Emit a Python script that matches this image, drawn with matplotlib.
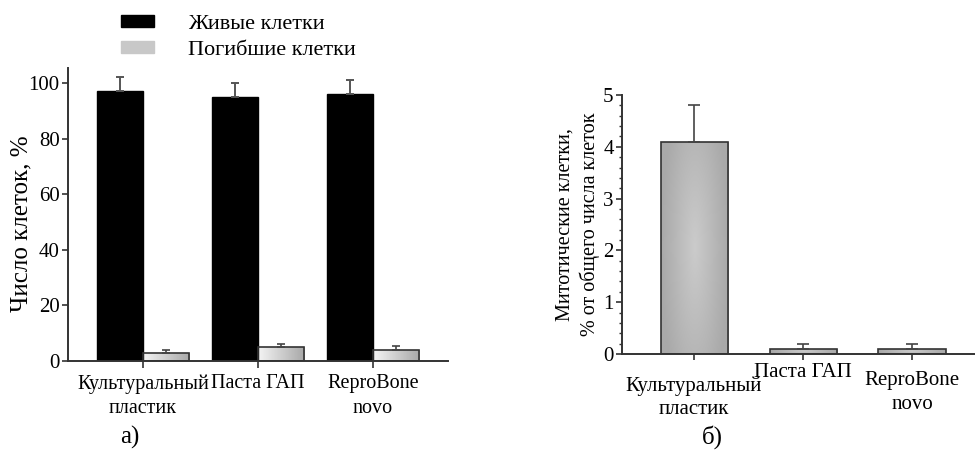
import matplotlib
matplotlib.use("Agg")
import matplotlib.pyplot as plt
import numpy as np
from matplotlib.patches import Patch

plt.rcParams["font.family"] = ["Liberation Serif", "DejaVu Serif"]

# panel a: percentage of live / dead cells
groups_a = ["Культуральный\nпластик", "Паста ГАП", "ReproBone\nnovo"]
live = [97, 95, 96]
live_err = [5, 5, 5]
dead = [3, 5, 4]
dead_err = [1, 1, 1.4]

# panel b: mitotic cells
groups_b = ["Культуральный\nпластик", "Паста ГАП", "ReproBone\nnovo"]
mitotic = [4.1, 0.1, 0.1]
mitotic_err = [0.7, 0.1, 0.1]

W, H = 975, 458
fig = plt.figure(figsize=(W / 100, H / 100), dpi=100)


def gradient_fill(ax, bar, img, cmap):
    x0, y0 = bar.get_x(), bar.get_y()
    w, h = bar.get_width(), bar.get_height()
    im = ax.imshow(img, extent=(x0, x0 + w, y0, y0 + h), aspect="auto",
                   cmap=cmap, vmin=0, vmax=1, origin="lower", zorder=bar.get_zorder() - 0.1)
    im.set_clip_path(bar)
    bar.set_facecolor("none")


def style_axes(ax):
    for s in ("top", "right"):
        ax.spines[s].set_visible(False)
    for s in ("left", "bottom"):
        ax.spines[s].set_color("#333333")
        ax.spines[s].set_linewidth(1.4)
    ax.tick_params(axis="both", colors="#333333", labelcolor="black", labelsize=15,
                   length=4, width=1.2, pad=2)


# ---- panel a ----
ax1 = fig.add_axes([68 / W, 97 / H, 380 / W, 293 / H])
x = np.arange(len(groups_a))
bw = 0.4
ax1.bar(x - bw / 2, live, bw, color="black", edgecolor="black", zorder=2,
        yerr=[np.zeros(3), live_err], error_kw=dict(ecolor="#555555", elinewidth=1.4, capsize=3, capthick=1.4))
dbars = ax1.bar(x + bw / 2, dead, bw, color="#d8d8d8", edgecolor="#333333", linewidth=1.2, zorder=2,
                yerr=[np.zeros(3), dead_err], error_kw=dict(ecolor="#444444", elinewidth=1.2, capsize=3, capthick=1.2))
hgrad = np.tile(np.linspace(0, 1, 64), (8, 1))
for b in dbars:
    gradient_fill(ax1, b, hgrad, matplotlib.colors.LinearSegmentedColormap.from_list("g1", ["#f4f4f4", "#a8a8a8"]))
ax1.set_xlim(-0.652, 2.652)
ax1.set_ylim(0, 105.4)
ax1.set_yticks([0, 20, 40, 60, 80, 100])
ax1.set_xticks(x)
ax1.set_xticklabels([])
style_axes(ax1)
ax1.tick_params(axis="x", length=5)
ax1.set_ylabel("Число клеток, %", fontsize=18)
ax1.yaxis.set_label_coords(-0.094, 0.47)
for xi, lab in zip(x, groups_a):
    ax1.text(xi, -0.045, lab, transform=ax1.get_xaxis_transform(), ha="center", va="top",
             fontsize=14.5, linespacing=1.4)
fig.text(130 / W, 1 - 437 / H, "а)", ha="center", va="center", fontsize=18)

# legend
handles = [Patch(facecolor="black", edgecolor="black"),
           Patch(facecolor="#c8c8c8", edgecolor="#c8c8c8")]
fig.legend(handles, ["Живые клетки", "Погибшие клетки"], loc="upper left",
           bbox_to_anchor=(121 / W, 1 - 15 / H), frameon=False, fontsize=16,
           borderaxespad=0, borderpad=0,
           handlelength=1.5, handleheight=0.45, handletextpad=1.5, labelspacing=0.3)

# ---- panel b ----
ax2 = fig.add_axes([622 / W, 104 / H, 353 / W, 259 / H])
x2 = np.arange(len(groups_b))
bw2 = 0.615
mbars = ax2.bar(x2, mitotic, bw2, color="#c0c0c0", edgecolor="#333333", linewidth=1.2, zorder=2,
                yerr=[np.zeros(3), mitotic_err], error_kw=dict(ecolor="#444444", elinewidth=1.2, capsize=4, capthick=1.2))
gx, gy = np.meshgrid(np.linspace(-1, 1, 64), np.linspace(-1, 1, 64))
rgrad = np.sqrt(gx ** 2 + (0.6 * gy) ** 2)
for b in mbars:
    gradient_fill(ax2, b, rgrad, matplotlib.colors.LinearSegmentedColormap.from_list("g2", ["#cbcbcb", "#a9a9a9"]))
ax2.set_xlim(-0.661, 2.578)
ax2.set_ylim(0, 5)
ax2.set_yticks([0, 1, 2, 3, 4, 5])
ax2.set_yticks(np.arange(0, 5.01, 0.2), minor=True)
ax2.set_xticks(x2)
ax2.set_xticklabels([])
style_axes(ax2)
ax2.tick_params(axis="y", which="minor", length=2.5, width=1, colors="#333333")
ax2.set_ylabel("Митотические клетки,\n% от общего числа клеток", fontsize=14.5,
               linespacing=1.3)
ax2.yaxis.set_label_coords(-0.062, 0.5)
offs = [-0.085, -0.035, -0.065]
for xi, lab, o in zip(x2, groups_b, offs):
    ax2.text(xi, o, lab, transform=ax2.get_xaxis_transform(), ha="center", va="top",
             fontsize=15, linespacing=1.35)
fig.text(712 / W, 1 - 437 / H, "б)", ha="center", va="center", fontsize=18)

fig.savefig("out.png", dpi=100)
